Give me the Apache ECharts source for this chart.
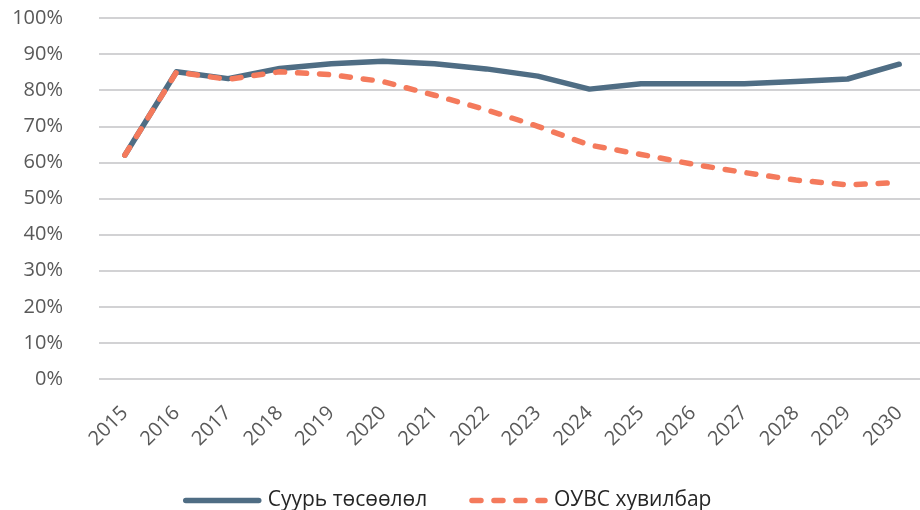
<!DOCTYPE html>
<html>
<head>
<meta charset="utf-8">
<title>Суурь төсөөлөл / ОУВС хувилбар</title>
<script src="https://cdn.jsdelivr.net/npm/echarts@6/dist/echarts.min.js"></script>
<style>
    html, body { margin: 0; padding: 0; background: #fff; }
    #chart { width: 920px; height: 510px; }
</style>
</head>
<body>
<div id="chart"></div>
<script>
    // он
    var years = ['2015', '2016', '2017', '2018', '2019', '2020', '2021', '2022',
                 '2023', '2024', '2025', '2026', '2027', '2028', '2029', '2030'];
    // Суурь төсөөлөл (%)
    var baseline = [62, 85.1, 83.2, 86, 87.3, 88, 87.3, 85.9, 83.9, 80.3, 81.8, 81.8, 81.8, 82.4, 83.1, 87.2];
    // ОУВС хувилбар (%)
    var imfCase = [62, 85, 83, 85.1, 84.3, 82.4, 78.6, 74.6, 70, 64.8, 62.2, 59.5, 57.2, 55.1, 53.8, 54.4];

    var seriesNames = ['Суурь төсөөлөл', 'ОУВС хувилбар'];

    var chart = echarts.init(document.getElementById('chart'));
    var font = '"Open Sans", "Noto Sans", sans-serif';

    var option = {
        animation: false,
        grid: {
            left: 99,
            right: -5,
            top: 18,
            bottom: 131,
            outerBoundsMode: 'none'
        },
        legend: {
            data: seriesNames,
            left: 178,
            top: 485,
            itemWidth: 73,
            itemHeight: 8,
            itemGap: 42,
            itemStyle: { opacity: 0 },
            lineStyle: { width: 5.5, cap: 'round' },
            textStyle: {
                fontFamily: font,
                fontSize: 21,
                color: '#262626',
                padding: [0, 0, 0, 4]
            }
        },
        xAxis: {
            type: 'category',
            data: years,
            boundaryGap: true,
            axisLine: { show: false },
            axisTick: { show: false },
            axisLabel: {
                rotate: 45,
                margin: 31,
                fontFamily: font,
                fontSize: 20,
                color: '#595959'
            }
        },
        yAxis: {
            type: 'value',
            min: 0,
            max: 100,
            interval: 10,
            axisLine: { show: false },
            axisTick: { show: false },
            axisLabel: {
                margin: 36,
                fontFamily: font,
                fontSize: 20,
                color: '#595959',
                formatter: '{value}%'
            },
            splitLine: {
                lineStyle: { color: '#c3c3c6', width: 1.6 }
            }
        },
        series: [
            {
                name: seriesNames[0],
                type: 'line',
                data: baseline,
                symbol: 'circle',
                showSymbol: false,
                color: '#4f6d84',
                lineStyle: { width: 5.5, color: '#4f6d84', cap: 'round', join: 'round' }
            },
            {
                name: seriesNames[1],
                type: 'line',
                data: imfCase,
                symbol: 'circle',
                showSymbol: false,
                color: '#f47a5c',
                lineStyle: { width: 5.5, color: '#f47a5c', type: [9, 13], cap: 'round', join: 'round' }
            }
        ]
    };

    chart.setOption(option);
</script>
</body>
</html>
